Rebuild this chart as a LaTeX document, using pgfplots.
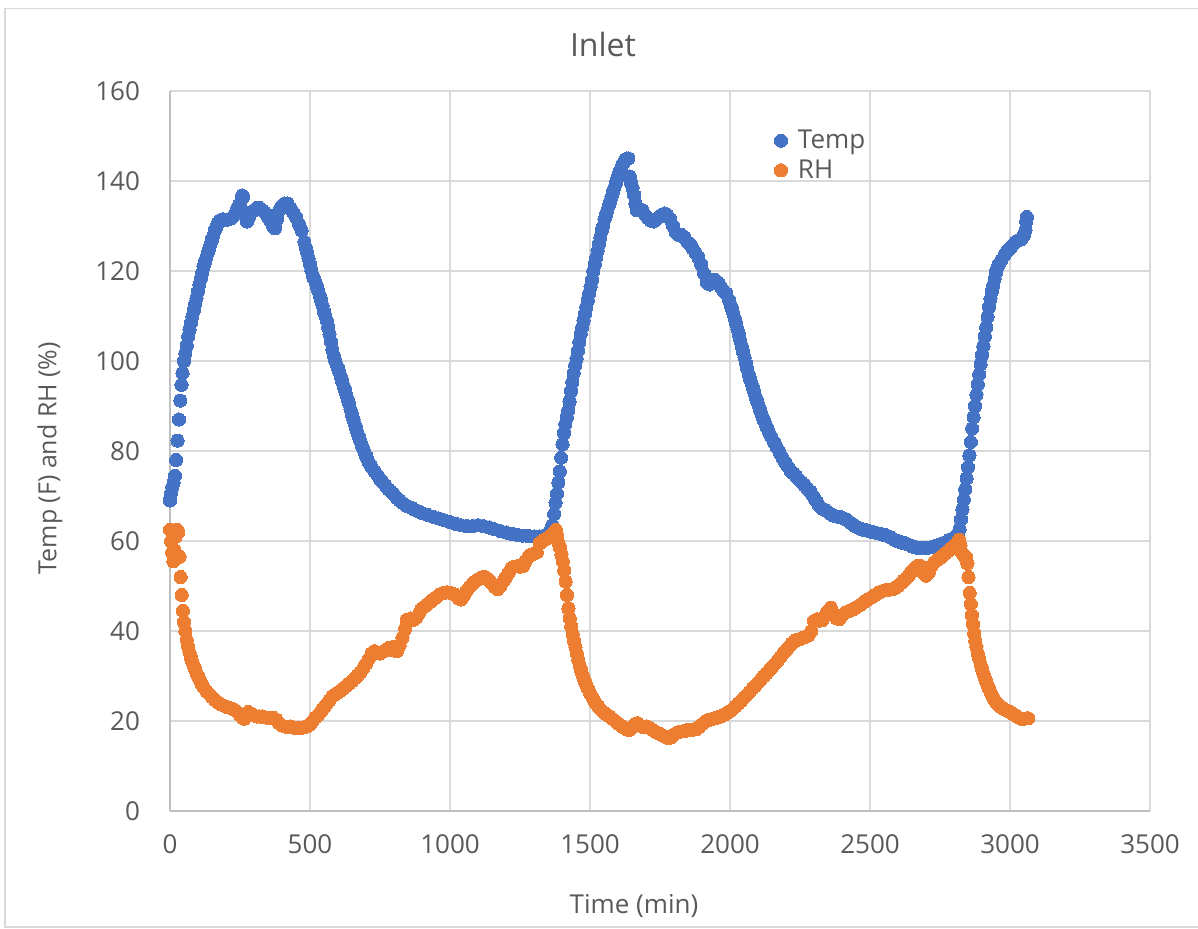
\documentclass[border=0pt]{standalone}
\usepackage{pgfplots}
\pgfplotsset{compat=1.18}
\usepackage{fontspec}
\setmainfont{Open Sans}
\definecolor{tempc}{HTML}{4472C4}
\definecolor{rhc}{HTML}{ED7D31}
\definecolor{gridc}{HTML}{D9D9D9}
\definecolor{axc}{HTML}{BFBFBF}
\definecolor{txt}{HTML}{595959}
\begin{document}
\begin{tikzpicture}
\useasboundingbox (-85pt,-58.5pt) rectangle (514pt,405.5pt);
\draw[gridc, line width=0.9pt] (600pt,401.25pt) -- (-82.5pt,401.25pt) -- (-82.5pt,-58pt) -- (600pt,-58pt);
\node[text=txt, font=\fontsize{16}{19}\selectfont] at (216.5pt,383pt) {Inlet};
\begin{axis}[
  at={(0pt,0pt)}, anchor=south west,
  scale only axis, width=490pt, height=360pt,
  xmin=0, xmax=3500, ymin=0, ymax=160,
  xtick distance=500, ytick distance=20,
  grid=major, major grid style={gridc, line width=0.9pt},
  axis x line*=bottom, axis y line*=left,
  axis line style={axc, line width=0.9pt, -},
  tick style={draw=none},
  /pgf/number format/assume math mode=true,
  /pgf/number format/1000 sep={},
  ticklabel style={text=txt, font=\fontsize{13}{15.6}\selectfont},
  xticklabel style={yshift=-8.5pt},
  yticklabel style={xshift=-11.5pt},
  xlabel={Time (min)},
  ylabel={Temp (F) and RH (\%)},
  every axis x label/.style={at={(axis description cs:0.4735,0)}, anchor=center, yshift=-47.5pt, text=txt, font=\fontsize{13}{15.6}\selectfont},
  every axis y label/.style={at={(axis description cs:0,0.49)}, anchor=center, xshift=-60pt, rotate=90, text=txt, font=\fontsize{12.5}{15}\selectfont},
  legend style={draw=none, fill=none, at={(axis description cs:0.6163,0.9104)}, anchor=west, font=\fontsize{13}{15.6}\selectfont, text=txt, row sep=0pt, inner sep=0pt, nodes={inner sep=2pt}},
  legend cell align=left,
  legend image code/.code={\draw[#1, mark repeat=1] plot coordinates {(0pt,0pt)}; \path[draw=none, fill=none] (0pt,0pt) -- (6.5pt,0pt);},
]
\addplot[only marks, mark=*, mark size=3.3pt, mark options={draw=tempc, fill=tempc, line width=0pt}] coordinates {
(0,69)(3,70.5)(8,72)(13,73)(18,74.5)(22,78)(27,82.3)(32,87)(37,91.2)(41,94.7)(45,97.3)(50,100)(55,101.7)(60,103.5)(65,105.5)(70,107)(75,108.5)(80,110)(85,111.3)(90,112.7)(95,114)(100,115.5)(105,117)(110,118.3)(115,119.6)(120,121)(125,122)(130,123)(135,124)(140,125)(145,126)(150,127)(155,128)(160,129)(165,129.7)(170,130.5)(175,131)(180,131.3)(190,131.5)(200,131.3)(210,131.5)(220,131.8)(230,132.5)(240,134)(250,135)(258,136.8)(262,136.5)(268,133)(275,131)(282,132)(290,133)(300,133.5)(310,134)(320,134)(330,133.5)(340,133)(350,132)(360,131)(368,130)(375,129.5)(382,131.5)(390,133.5)(400,134.5)(410,135)(420,135)(430,134)(440,133)(450,132)(460,130.5)(470,129)(480,126.5)(490,124)(500,121.5)
(510,119)(520,117.5)(530,115.5)(540,113.5)(550,111)(560,109)(570,106)(580,102.5)(590,100)(600,98.5)(610,96.5)(620,94.5)(630,92.5)(640,90.5)(650,88)(660,86)(670,84)(680,82.2)(690,80.5)(700,79)(710,77.5)(720,76.5)(730,75.5)(740,74.7)(750,73.8)(760,73)(770,72.3)(780,71.5)(790,71)(800,70.3)(810,69.6)(820,69)(830,68.5)(840,68)(850,67.7)(860,67.4)(870,67.1)(880,66.8)(890,66.5)(900,66.2)(920,65.8)(940,65.4)(960,65)(980,64.6)(1000,64.2)(1020,63.8)(1040,63.5)(1060,63.3)(1080,63.3)(1100,63.5)(1120,63.3)(1140,63)(1160,62.6)(1180,62.2)(1200,61.9)(1220,61.6)(1240,61.4)(1260,61.2)(1280,61.1)(1300,61)(1320,61)(1340,61.3)(1355,62)(1365,63.5)
(1372,66)(1377,68.5)(1382,70.5)(1387,73)(1392,75.5)(1397,78.5)(1402,81.5)(1407,84)(1412,86)(1417,87.5)(1422,89)(1427,91)(1432,93.3)(1437,95.3)(1442,97.3)(1447,99)(1452,100.5)(1457,102.3)(1462,104.2)(1467,106)(1472,107.5)(1477,109)(1482,110.5)(1487,112)(1492,113.5)(1497,115)(1502,116.5)(1507,118)(1512,120)(1517,121.5)(1522,123)(1527,124.5)(1532,126)(1537,127.5)(1542,129)(1547,130)(1552,131.5)(1557,132.5)(1562,133.5)(1567,134.5)(1572,135.5)(1577,136.5)(1582,137.5)(1587,138.5)(1592,139.5)(1597,140.5)(1602,141.5)(1607,142.3)(1612,143)(1617,143.8)(1622,144.3)(1627,144.8)(1632,145)(1637,145)(1642,141)(1647,139.5)(1652,138.5)(1657,137)(1662,135)(1667,133.5)(1677,133.5)(1687,133.5)(1697,132.5)(1707,131.8)(1717,131.2)(1727,131)(1737,131.5)(1747,132)(1757,132.5)(1767,132.8)(1777,132.3)(1787,131.5)(1797,130)(1807,128.5)(1817,128)(1827,128)(1837,127.5)(1847,126.5)(1857,126)(1867,125)(1877,124)(1887,123)(1897,121.5)(1907,119.5)(1917,117.5)(1927,117)(1937,118)(1947,118)(1957,117.5)(1967,116.5)(1977,115.5)(1987,115)(1997,113.5)
(2007,111.5)(2017,109.5)(2027,107)(2037,104.5)(2047,102)(2057,99.5)(2067,97)(2077,95)(2087,93)(2097,91)(2107,89.2)(2117,87.5)(2127,86)(2137,84.5)(2147,83.2)(2157,82)(2167,80.8)(2177,79.7)(2187,78.5)(2197,77.5)(2207,76.5)(2217,75.5)(2227,75)(2237,74.3)(2247,73.6)(2257,73)(2267,72.3)(2277,71.6)(2287,71)(2297,70)(2307,69)(2317,68)(2327,67.3)(2337,67)(2347,66.6)(2357,66.1)(2367,65.7)(2377,65.5)(2387,65.4)(2397,65.3)(2407,65)(2417,64.7)(2427,64.2)(2437,63.8)(2447,63.3)(2457,63)(2467,62.7)(2477,62.5)(2487,62.4)(2497,62.2)(2507,62)(2517,61.9)(2527,61.7)(2537,61.6)(2547,61.4)(2557,61.3)(2567,61)(2577,60.7)(2587,60.3)(2597,60)(2607,59.8)(2617,59.6)(2627,59.5)(2637,59.2)(2647,58.9)(2657,58.7)(2667,58.5)(2677,58.4)(2687,58.4)(2697,58.4)(2707,58.5)(2717,58.6)(2727,58.8)(2737,59)(2747,59.1)(2757,59.4)(2767,59.7)(2777,60)(2787,60.3)(2797,60.6)(2807,61.1)(2815,61.8)
(2820,62.6)(2825,64.8)(2830,67)(2835,69.2)(2840,71.5)(2845,73.9)(2850,76.4)(2855,79)(2860,82)(2865,85)(2870,87.5)(2875,90)(2880,92.5)(2885,94.8)(2890,97)(2895,99.3)(2900,101.3)(2905,103.3)(2910,105.5)(2915,107.5)(2920,109.8)(2925,112)(2930,113.8)(2935,115.5)(2940,116.8)(2945,118.3)(2950,119.7)(2955,120.8)(2960,121.5)(2970,122.5)(2980,123.5)(2990,124.5)(3000,125)(3010,125.8)(3020,126.5)(3030,126.8)(3040,127)(3050,128)(3055,129)(3058,131)(3060,132)
(485,125.3)(495,122.8)(505,120.2)(515,118.2)(525,116.5)(535,114.5)(545,112.3)(555,110)(565,107.5)(575,104.3)(585,101.2)(595,99.2)(605,97.5)(615,95.5)(625,93.5)(635,91.5)(645,89.2)(655,87)(665,85)(675,83.1)(685,81.3)(695,79.7)(705,78.2)(715,77)
(2002,112.5)(2012,110.5)(2022,108.3)(2032,105.8)(2042,103.3)(2052,100.8)(2062,98.2)(2072,96)(2082,94)(2092,92)(2102,90.1)(2112,88.3)(2122,86.7)(2132,85.2)(2142,83.8)
};
\addlegendentry{Temp}
\addplot[only marks, mark=*, mark size=3.3pt, mark options={draw=rhc, fill=rhc, line width=0pt}] coordinates {
(0,62.5)(4,60)(8,57.5)(12,55.5)(16,58)(20,61)(25,62.5)(30,62)(34,56.5)(38,52)(42,48)(46,44.5)(50,42)(55,40)(60,38)(65,36.5)(70,35.2)(75,34)(80,33.1)(85,32.3)(90,31.5)(95,30.7)(100,30)(105,29.3)(110,28.7)(115,28)(120,27.5)(130,26.6)(140,26)(150,25.3)(160,24.7)(170,24.2)(180,23.8)(190,23.5)(200,23.2)(210,23)(220,22.8)(230,22.5)(240,22)(250,21.3)(260,20.7)(265,20.5)(270,21.5)(280,22)(290,21.6)(300,21.3)(310,21)(320,21)(330,21)(340,20.8)(350,20.7)(360,20.6)(370,20.7)(380,20.3)(390,19.5)(400,19)(410,18.8)(420,18.6)(430,18.8)(440,18.6)(450,18.4)(460,18.4)(470,18.5)(480,18.6)(490,18.8)(500,19.2)
(510,20)(520,20.8)(530,21.4)(540,22.2)(550,23)(560,23.8)(570,24.6)(580,25.5)(590,25.9)(600,26.3)(610,26.8)(620,27.3)(630,27.8)(640,28.3)(650,28.9)(660,29.5)(670,30.1)(680,30.8)(690,31.7)(700,32.7)(710,33.8)(720,35)(730,35.5)(740,35.2)(750,35)(760,35.4)(770,35.8)(780,36.2)(790,35.8)(800,36.5)(810,35.5)(820,36.8)(830,38.5)(840,40.5)(845,42.5)(850,42.5)(860,42.8)(870,42.5)(880,43)(890,44)(900,45)(910,45.5)(920,46)(930,46.5)(940,47)(950,47.5)(960,48)(970,48.3)(980,48.5)(990,48.6)(1000,48.5)(1010,48.3)(1020,48)(1030,47.3)(1040,47)(1050,48)(1060,49)(1070,49.8)(1080,50.5)(1090,51)(1100,51.5)(1110,51.8)(1120,52)(1130,51.8)(1140,51.3)(1150,50.5)(1160,49.8)(1170,49.3)(1180,50)(1190,51)(1200,52)(1210,53)(1220,54)(1230,54.3)(1240,54.4)(1250,54.3)(1260,54.4)(1270,55.5)(1280,56.5)(1290,57)(1300,57.2)(1310,57.5)(1320,59.5)(1330,60)(1340,60.3)(1350,60.8)(1360,61.2)(1370,61.8)(1378,62.5)
(1383,61)(1388,59.5)(1393,58.5)(1398,57)(1403,55.5)(1408,53.5)(1413,51)(1418,48)(1423,45)(1428,42.8)(1433,41)(1438,39.3)(1443,37.8)(1448,36.4)(1453,35)(1458,33.6)(1463,32.4)(1468,31.3)(1473,30.3)(1478,29.4)(1483,28.6)(1488,27.9)(1493,27.2)(1498,26.5)(1503,25.9)(1508,25.3)(1513,24.8)(1520,24)(1530,23.2)(1540,22.5)(1550,21.9)(1560,21.4)(1570,21)(1580,20.5)(1590,20)(1600,19.5)(1610,19)(1620,18.6)(1630,18.2)(1640,18)(1650,18.5)(1660,19.3)(1670,19.5)(1680,19)(1690,18.6)(1700,18.8)(1710,18.6)(1720,18.2)(1730,17.8)(1740,17.4)(1750,17.1)(1760,16.8)(1770,16.5)(1780,16.2)(1790,16.4)(1800,17)(1810,17.4)(1820,17.6)(1830,17.7)(1840,17.8)(1850,18)(1860,18)(1870,18.1)(1880,18.2)(1890,18.7)(1900,19.3)(1910,19.8)(1920,20.2)(1930,20.3)(1940,20.5)(1950,20.7)(1960,20.9)(1970,21.1)(1980,21.4)(1990,21.8)
(2000,22.2)(2010,22.7)(2020,23.3)(2030,23.9)(2040,24.5)(2050,25.2)(2060,25.8)(2070,26.5)(2080,27.2)(2090,27.8)(2100,28.5)(2110,29.2)(2120,29.9)(2130,30.6)(2140,31.3)(2150,32)(2160,32.7)(2170,33.4)(2180,34.2)(2190,35)(2200,35.7)(2210,36.5)(2220,37.2)(2230,37.8)(2240,38)(2250,38.2)(2260,38.5)(2270,38.7)(2280,39)(2290,40)(2300,42.2)(2310,42.6)(2320,42.3)(2330,42.4)(2340,43.5)(2350,44.5)(2360,45.2)(2370,43.8)(2380,42.8)(2390,42.6)(2400,43.5)(2410,44)(2420,44.3)(2430,44.6)(2440,44.8)(2450,45.2)(2460,45.6)(2470,46)(2480,46.5)(2490,46.9)(2500,47.3)(2510,47.7)(2520,48.1)(2530,48.5)(2540,48.8)(2550,49)(2560,49.1)(2570,49.2)(2580,49.3)(2590,49.6)(2600,50)(2610,50.6)(2620,51.2)(2630,51.8)(2640,52.5)(2650,53.3)(2660,54)(2670,54.5)(2680,54.5)(2690,53)(2700,52.3)(2710,53)(2720,54.5)(2730,55.3)(2740,55.8)(2750,56.2)(2760,56.8)(2770,57.3)(2780,57.8)(2790,58.3)(2800,58.8)(2810,59.5)(2818,60.3)
(2823,59)(2828,57.5)(2833,57)(2838,56.5)(2843,56.5)(2848,55)(2852,52)(2856,48.5)(2860,46)(2864,43.5)(2868,41.5)(2872,39.5)(2876,37.8)(2880,36.5)(2885,35)(2890,33.8)(2895,32.6)(2900,31.5)(2905,30.5)(2910,29.6)(2915,28.8)(2920,28)(2925,27.2)(2930,26.5)(2935,25.8)(2940,25.2)(2945,24.7)(2950,24.2)(2960,23.5)(2970,23)(2980,22.6)(2990,22.3)(3000,22)(3010,21.6)(3020,21.2)(3030,20.8)(3040,20.5)(3050,20.5)(3060,20.6)(3065,20.6)
};
\addlegendentry{RH}
\end{axis}
\end{tikzpicture}
\end{document}
